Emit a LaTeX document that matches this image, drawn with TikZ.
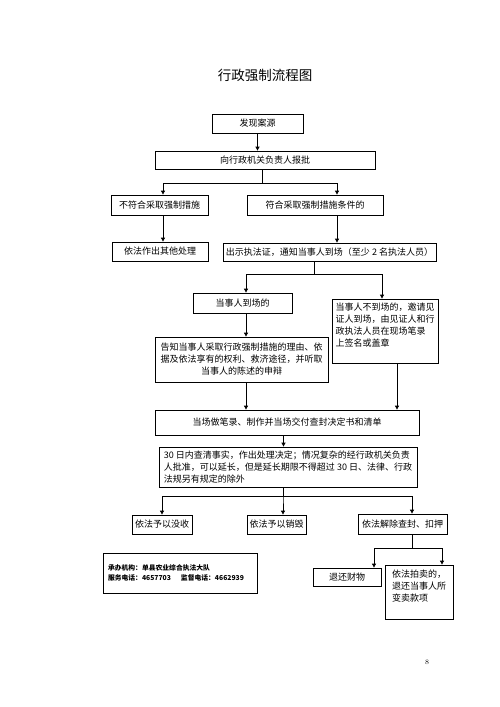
\documentclass[tikz,border=0pt]{standalone}
\usepackage{fontspec}
\usepackage{tikz}
\usetikzlibrary{arrows.meta}
\newfontfamily\cjk{Noto Sans CJK SC}

\begin{document}
\begin{tikzpicture}[x=1pt, y=-1pt, every node/.style={font=\cjk\fontsize{9}{12}\selectfont},
box/.style={draw, line width=0.8pt, inner sep=2pt},
arr/.style={line width=0.8pt, -{Triangle[length=4pt,width=4pt]}}]
\useasboundingbox (0,0) rectangle (500,707);
\node (title) at (265,75) {\fontsize{13.5}{16}\selectfont 行政强制流程图};
\node[box, minimum width=91pt, minimum height=19pt] (n1) at (257.5,123.5) {发现案源};
\node[box, minimum width=220pt, minimum height=18pt] (n2) at (265,160) {向行政机关负责人报批};
\node[box, minimum width=97pt, minimum height=20pt] (n3) at (159.5,205) {不符合采取强制措施};
\node[box, minimum width=136pt, minimum height=20pt] (n4) at (315,205) {符合采取强制措施条件的};
\node[box, minimum width=96pt, minimum height=19pt] (n5) at (160,251.5) {依法作出其他处理};
\node[box, minimum width=213pt, minimum height=18pt] (n6) at (329.5,252) {出示执法证，通知当事人到场（至少 2 名执法人员）};
\node[box, minimum width=99pt, minimum height=20pt] (n7) at (242.5,303) {当事人到场的};
\node[box, minimum width=106pt, minimum height=64pt, align=left] (n8) at (385,331)
    {当事人不到场的，邀请见\\证人到场，由见证人和行\\政执法人员在现场笔录\\上签名或盖章\\ \mbox{}};
\node[box, minimum width=173pt, minimum height=45pt, align=center] (n9) at (241.5,359.5)
    {告知当事人采取行政强制措施的理由、依\\据及依法享有的权利、救济途径，并听取\\当事人的陈述的申辩};
\node[box, minimum width=264pt, minimum height=25pt] (n10) at (287,422.5) {当场做笔录、制作并当场交付查封决定书和清单};
\node[box, minimum width=258pt, minimum height=40pt, align=left] (n11) at (288,467)
    {30 日内查清事实，作出处理决定；情况复杂的经行政机关负责\\人批准，可以延长，但是延长期限不得超过 30 日、法律、行政\\法规另有规定的除外};
\node[box, minimum width=60pt, minimum height=19pt] (n12) at (162,524.5) {依法予以没收};
\node[box, minimum width=59pt, minimum height=19pt] (n13) at (276.5,524.5) {依法予以销毁};
\node[box, minimum width=89pt, minimum height=20pt] (n14) at (402.5,524) {依法解除查封、扣押};
\node[box, minimum width=68pt, minimum height=18pt] (n15) at (347,577) {退还财物};
\node[box, minimum width=68pt, minimum height=54pt, align=left] (n16) at (419,592)
    {依法拍卖的，\\退还当事人所\\变卖款项\\ \mbox{}};
\node[box, line width=0.6pt, minimum width=154pt, minimum height=40pt, text width=144pt, align=left, inner sep=0pt,
    font=\cjk\bfseries\fontsize{6.8}{10}\selectfont] (info) at (180,573)
    {承办机构：单县农业综合执法大队\\服务电话：4657703\hspace{10pt}监督电话：4662939};
\node (page) at (427,662) {\rmfamily\fontsize{7}{8}\selectfont 8};
\draw[arr] (n1.south) -- (n1.south |- n2.north);
\draw[arr] ([xshift=-3pt]n2.south) -- ++(0,14) -| ([xshift=3.5pt]n3.north);
\draw[arr] ([xshift=-3pt]n2.south) -- ++(0,14) -| ([xshift=22pt]n4.north);
\draw[arr] ([xshift=3.5pt]n3.south) -- ([xshift=3.5pt]n3.south |- n5.north);
\draw[arr] ([xshift=22pt]n4.south) -- ([xshift=22pt]n4.south |- n6.north);
\draw[arr] ([xshift=-15.5pt]n6.south) -- ++(0,13) -| ([xshift=3.5pt]n7.north);
\draw[arr] ([xshift=-15.5pt]n6.south) -- ++(0,13) -| ([xshift=-3pt]n8.north);
\draw[arr] ([xshift=3.5pt]n7.south) -- ([xshift=3.5pt]n7.south |- n9.north);
\draw[arr] ([xshift=4.5pt]n9.south) -- ([xshift=4.5pt]n9.south |- n10.north);
\draw[arr] ([xshift=12pt]n8.south) -- ([xshift=12pt]n8.south |- n10.north);
\draw[arr] ([xshift=-3.5pt]n10.south) -- ([xshift=-3.5pt]n10.south |- n11.north);
\draw[arr] ([xshift=-5pt]n11.south) -- ++(0,9) -| (n12.north);
\draw[arr] ([xshift=-5pt]n11.south) -- ++(0,9) -| ([xshift=6.5pt]n13.north);
\draw[arr] ([xshift=-5pt]n11.south) -- ++(0,9) -| ([xshift=9.5pt]n14.north);
\draw[arr] ([xshift=9.5pt]n14.south) -- ++(0,14) -| ([xshift=27pt]n15.north);
\draw[arr] ([xshift=9.5pt]n14.south) -- ++(0,14) -| ([xshift=23pt]n16.north);
\end{tikzpicture}
\end{document}
